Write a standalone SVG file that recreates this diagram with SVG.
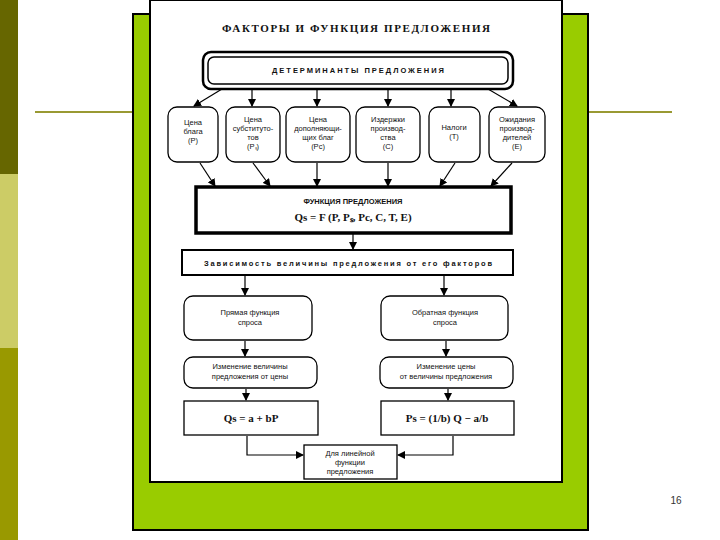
<svg xmlns="http://www.w3.org/2000/svg" width="720" height="540" viewBox="0 0 720 540">
<defs>
<marker id="ah" markerWidth="8" markerHeight="8" refX="7" refY="4" orient="auto" markerUnits="userSpaceOnUse"><path d="M0,0 L8,4 L0,8 z" fill="#000"/></marker>
<style>
.b{fill:#fff;stroke:#000;stroke-width:1.3}
.t{font-family:"Liberation Sans",Arial,sans-serif;font-size:7.5px;text-anchor:middle;fill:#111}
.h{font-family:"Liberation Sans",Arial,sans-serif;font-size:7.5px;font-weight:bold;text-anchor:middle;fill:#111}
.f{font-family:"Liberation Serif",serif;font-size:11px;font-weight:bold;text-anchor:middle;fill:#111}
.c{stroke:#000;stroke-width:1.2;fill:none;marker-end:url(#ah)}
</style>
</defs>
<rect width="720" height="540" fill="#fff"/>
<rect x="0" y="0" width="18" height="174" fill="#666600"/>
<rect x="0" y="174" width="18" height="174" fill="#cccc66"/>
<rect x="0" y="348" width="18" height="192" fill="#999900"/>
<line x1="35" y1="112" x2="135" y2="112" stroke="#999933" stroke-width="2"/>
<line x1="586" y1="112" x2="672" y2="112" stroke="#999933" stroke-width="2"/>
<rect x="133" y="14" width="455" height="516" fill="#99cc00" stroke="#000" stroke-width="2"/>
<rect x="150" y="0" width="412" height="482" fill="#fff" stroke="#000" stroke-width="2"/>
<text x="676" y="504" font-family="Liberation Sans,Arial,sans-serif" font-size="10" fill="#333" text-anchor="middle">16</text>
<text x="356" y="32" class="f" font-size="10" textLength="268" lengthAdjust="spacing">ФАКТОРЫ И ФУНКЦИЯ ПРЕДЛОЖЕНИЯ</text>
<g id="connectors">
<line class="c" x1="222" y1="89" x2="194" y2="106"/>
<line class="c" x1="252" y1="89" x2="252" y2="106"/>
<line class="c" x1="317" y1="89" x2="317" y2="106"/>
<line class="c" x1="388" y1="89" x2="388" y2="106"/>
<line class="c" x1="451" y1="89" x2="451" y2="106"/>
<line class="c" x1="488" y1="89" x2="517" y2="106"/>
<line class="c" x1="200" y1="163" x2="215" y2="186"/>
<line class="c" x1="253" y1="163" x2="270" y2="186"/>
<line class="c" x1="317" y1="163" x2="317" y2="186"/>
<line class="c" x1="388" y1="163" x2="388" y2="186"/>
<line class="c" x1="455" y1="163" x2="440" y2="186"/>
<line class="c" x1="512" y1="163" x2="491" y2="186"/>
<line class="c" x1="353" y1="234" x2="353" y2="249"/>
<line class="c" x1="245" y1="276" x2="245" y2="295"/>
<line class="c" x1="444" y1="276" x2="444" y2="295"/>
<line class="c" x1="245" y1="341" x2="245" y2="356"/>
<line class="c" x1="446" y1="341" x2="446" y2="356"/>
<line class="c" x1="246" y1="389" x2="246" y2="400"/>
<line class="c" x1="448" y1="389" x2="448" y2="400"/>
<polyline class="c" points="247,436 247,455 303,455"/>
<polyline class="c" points="453,436 453,455 398,455"/>
</g>
<g id="determinants">
<rect x="203" y="52" width="310" height="37" rx="8" fill="#fff" stroke="#000" stroke-width="2.5"/>
<rect x="208" y="57" width="300" height="27" rx="6" fill="none" stroke="#000" stroke-width="1.5"/>
<text x="358" y="73" class="h" textLength="172" lengthAdjust="spacing">ДЕТЕРМИНАНТЫ ПРЕДЛОЖЕНИЯ</text>
</g>
<g id="n1"><rect class="b" x="168" y="107" width="50" height="55" rx="9"/><text class="t" x="193" y="125">Цена</text><text class="t" x="193" y="134">блага</text><text class="t" x="193" y="143">(P)</text></g>
<g id="n2"><rect class="b" x="226" y="107" width="54" height="55" rx="9"/><text class="t" x="253" y="122">Цена</text><text class="t" x="253" y="131">субституто-</text><text class="t" x="253" y="140">тов</text><text class="t" x="253" y="149">(Pₛ)</text></g>
<g id="n3"><rect class="b" x="286" y="107" width="64" height="55" rx="9"/><text class="t" x="318" y="122">Цена</text><text class="t" x="318" y="131">дополняющи-</text><text class="t" x="318" y="140">щих благ</text><text class="t" x="318" y="149">(Pc)</text></g>
<g id="n4"><rect class="b" x="356" y="107" width="64" height="55" rx="9"/><text class="t" x="388" y="122">Издержки</text><text class="t" x="388" y="131">производ-</text><text class="t" x="388" y="140">ства</text><text class="t" x="388" y="149">(C)</text></g>
<g id="n5"><rect class="b" x="429" y="107" width="51" height="55" rx="9"/><text class="t" x="454" y="130">Налоги</text><text class="t" x="454" y="139">(T)</text></g>
<g id="n6"><rect class="b" x="489" y="107" width="56" height="55" rx="9"/><text class="t" x="517" y="122">Ожидания</text><text class="t" x="517" y="131">производ-</text><text class="t" x="517" y="140">дителей</text><text class="t" x="517" y="149">(E)</text></g>
<g id="func"><rect x="196" y="187" width="315" height="46" fill="#fff" stroke="#000" stroke-width="3.5"/><text class="h" x="353" y="204">ФУНКЦИЯ ПРЕДЛОЖЕНИЯ</text><text class="f" x="353" y="221">Qs = F (P, Pₛ, Pc, C, T, E)</text></g>
<g id="dep"><rect x="182" y="250" width="331" height="25" fill="#fff" stroke="#000" stroke-width="2"/><text class="h" x="348" y="266" textLength="288" lengthAdjust="spacing">Зависимость величины предложения от его факторов</text></g>
<g id="l1"><rect class="b" x="184" y="296" width="128" height="44" rx="9"/><text class="t" x="250" y="315">Прямая функция</text><text class="t" x="250" y="325">спроса</text></g>
<g id="r1"><rect class="b" x="381" y="296" width="127" height="44" rx="9"/><text class="t" x="445" y="315">Обратная функция</text><text class="t" x="445" y="325">спроса</text></g>
<g id="l2"><rect class="b" x="184" y="357" width="133" height="31" rx="9"/><text class="t" x="250" y="369">Изменение величины</text><text class="t" x="250" y="379">предложения от цены</text></g>
<g id="r2"><rect class="b" x="380" y="357" width="133" height="31" rx="9"/><text class="t" x="446" y="369">Изменение цены</text><text class="t" x="446" y="379">от величины предложения</text></g>
<g id="l3"><rect class="b" x="184" y="401" width="134" height="34"/><text class="f" x="251" y="422">Qs = a + bP</text></g>
<g id="r3"><rect class="b" x="381" y="401" width="133" height="34"/><text class="f" x="447" y="422">Ps = (1/b) Q − a/b</text></g>
<g id="bottom"><rect class="b" x="304" y="445" width="93" height="34"/><text class="t" x="350" y="456">Для линейной</text><text class="t" x="350" y="465">функции</text><text class="t" x="350" y="474">предложения</text></g>
</svg>
